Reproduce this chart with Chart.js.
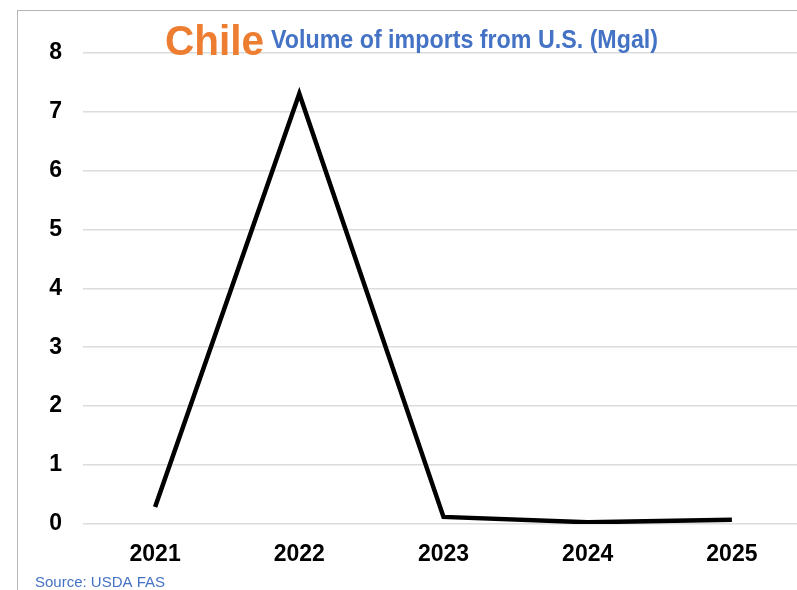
<!DOCTYPE html>
<html>
<head>
<meta charset="utf-8">
<script src="https://cdn.jsdelivr.net/npm/chart.js@4"></script>
<style>
  html, body { margin: 0; padding: 0; background: #fff; overflow: hidden; }
  body { width: 797px; height: 590px; position: relative; }
  .frame {
    position: absolute; left: 17px; top: 10px; right: -10px; bottom: -10px;
    border-top: 1.5px solid #b5b5b5; border-left: 1.5px solid #b5b5b5;
  }
  .wrap { position: absolute; left: 0; top: 0; width: 830px; height: 590px; }
</style>
</head>
<body>
<div class="frame"></div>
<div class="wrap"><canvas id="importsChart"></canvas></div>
<script>
// Chile: volume of imports from U.S. (Mgal)
const years = ['2021', '2022', '2023', '2024', '2025'];
const volumes = [0.29, 7.3, 0.12, 0.03, 0.07];
const yTicks = [0, 1, 2, 3, 4, 5, 6, 7, 8];

const FONT = "'Liberation Sans', Arial, sans-serif";

// draw text squeezed horizontally (narrow title face)
function narrowText(ctx, text, x, y, sx) {
  ctx.save();
  ctx.translate(x, y);
  ctx.scale(sx, 1);
  ctx.fillText(text, 0, 0);
  ctx.restore();
}

// Title and source note drawn on top of the plot
const titlePlugin = {
  id: 'titleText',
  afterDraw(chart) {
    const ctx = chart.ctx;
    ctx.save();
    ctx.textAlign = 'left';
    ctx.textBaseline = 'alphabetic';

    ctx.fillStyle = '#ED7D31';
    ctx.font = 'bold 42px ' + FONT;
    narrowText(ctx, 'Chile', 165, 55, 0.965);

    ctx.fillStyle = '#4472C4';
    ctx.font = 'bold 25px ' + FONT;
    narrowText(ctx, 'Volume of imports from U.S. (Mgal)', 271, 48, 0.93);

    ctx.font = '15px ' + FONT;
    ctx.fillText('Source: USDA FAS', 35, 587);
    ctx.restore();
  }
};

const ctx = document.getElementById('importsChart');
new Chart(ctx, {
  type: 'line',
  data: {
    labels: years,
    datasets: [{
      data: volumes,
      borderColor: '#000',
      borderWidth: 4.5,
      pointRadius: 0,
      tension: 0,
      fill: false
    }]
  },
  options: {
    responsive: true,
    maintainAspectRatio: false,
    animation: false,
    layout: { padding: { top: 52.5, right: 26, bottom: 0, left: 0 } },
    plugins: {
      legend: { display: false },
      tooltip: { enabled: false }
    },
    scales: {
      x: {
        offset: true,
        grid: { display: false },
        border: { display: false },
        ticks: { color: '#000', font: { family: FONT, size: 23, weight: 'bold' }, padding: 9 },
        afterFit(scale) { scale.height = 66; }
      },
      y: {
        min: 0,
        max: 8,
        afterBuildTicks(scale) { scale.ticks = yTicks.map(v => ({ value: v })); },
        grid: { color: '#dcdcdc', lineWidth: 1.5, drawTicks: false },
        border: { display: false },
        ticks: { color: '#000', font: { family: FONT, size: 23, weight: 'bold' }, padding: 21 },
        afterFit(scale) { scale.width = 83; }
      }
    }
  },
  plugins: [titlePlugin]
});
</script>
</body>
</html>
